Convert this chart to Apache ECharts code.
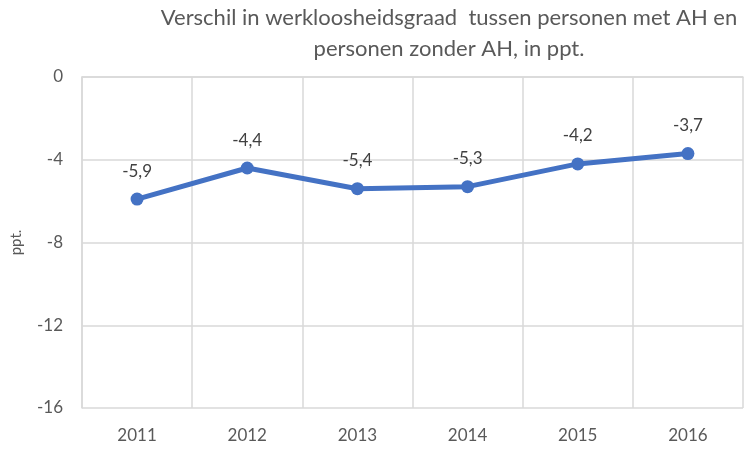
<!DOCTYPE html>
<html>
<head>
<meta charset="utf-8">
<script src="https://cdn.jsdelivr.net/npm/echarts@6/dist/echarts.min.js"></script>
<style>
	html, body { margin: 0; padding: 0; background: #fff; }
	#myChart { width: 744px; height: 450px; }
</style>
</head>
<body>
<div id="myChart"></div>
<script>
	// jaren en verschil in ppt.
	var years = ['2011', '2012', '2013', '2014', '2015', '2016'];
	var verschil = [-5.9, -4.4, -5.4, -5.3, -4.2, -3.7];
	var yTicks = { min: -16, max: 0, interval: 4 };

	var myChart = echarts.init(document.getElementById('myChart'));
	myChart.setOption({
		animation: false,
		textStyle: { fontFamily: 'Lato' },
		title: {
			text: 'Verschil in werkloosheidsgraad  tussen personen met AH en\npersonen zonder AH, in ppt.',
			left: 444,
			top: -3,
			textAlign: 'center',
			textStyle: { fontFamily: 'Lato', fontSize: 22, fontWeight: 'normal', color: '#595959', lineHeight: 31 }
		},
		grid: { left: 82, right: 1, top: 77, bottom: 42 },
		xAxis: {
			type: 'category',
			data: years,
			boundaryGap: true,
			axisLine: { lineStyle: { color: '#d9d9d9', width: 1.5 } },
			axisTick: { show: false },
			axisLabel: { color: '#595959', fontSize: 17, margin: 19 },
			splitLine: { show: true, interval: 0, lineStyle: { color: '#d9d9d9', width: 1.5 } }
		},
		yAxis: {
			type: 'value',
			min: yTicks.min,
			max: yTicks.max,
			interval: yTicks.interval,
			name: 'ppt.',
			nameLocation: 'middle',
			nameGap: 58,
			nameTextStyle: { color: '#595959', fontSize: 15 },
			axisLine: { show: true, lineStyle: { color: '#d9d9d9', width: 1.5 } },
			axisTick: { show: false },
			axisLabel: { color: '#595959', fontSize: 17, margin: 19 },
			splitLine: { show: true, lineStyle: { color: '#d9d9d9', width: 1.5 } }
		},
		series: [{
			type: 'line',
			data: verschil,
			symbol: 'circle',
			symbolSize: 13,
			lineStyle: { color: '#4472c4', width: 5 },
			itemStyle: { color: '#4472c4' },
			label: {
				show: true,
				position: 'top',
				distance: 13,
				color: '#404040',
				fontSize: 17,
				formatter: function (p) { return String(p.value).replace('.', ','); }
			}
		}]
	});
</script>
</body>
</html>
